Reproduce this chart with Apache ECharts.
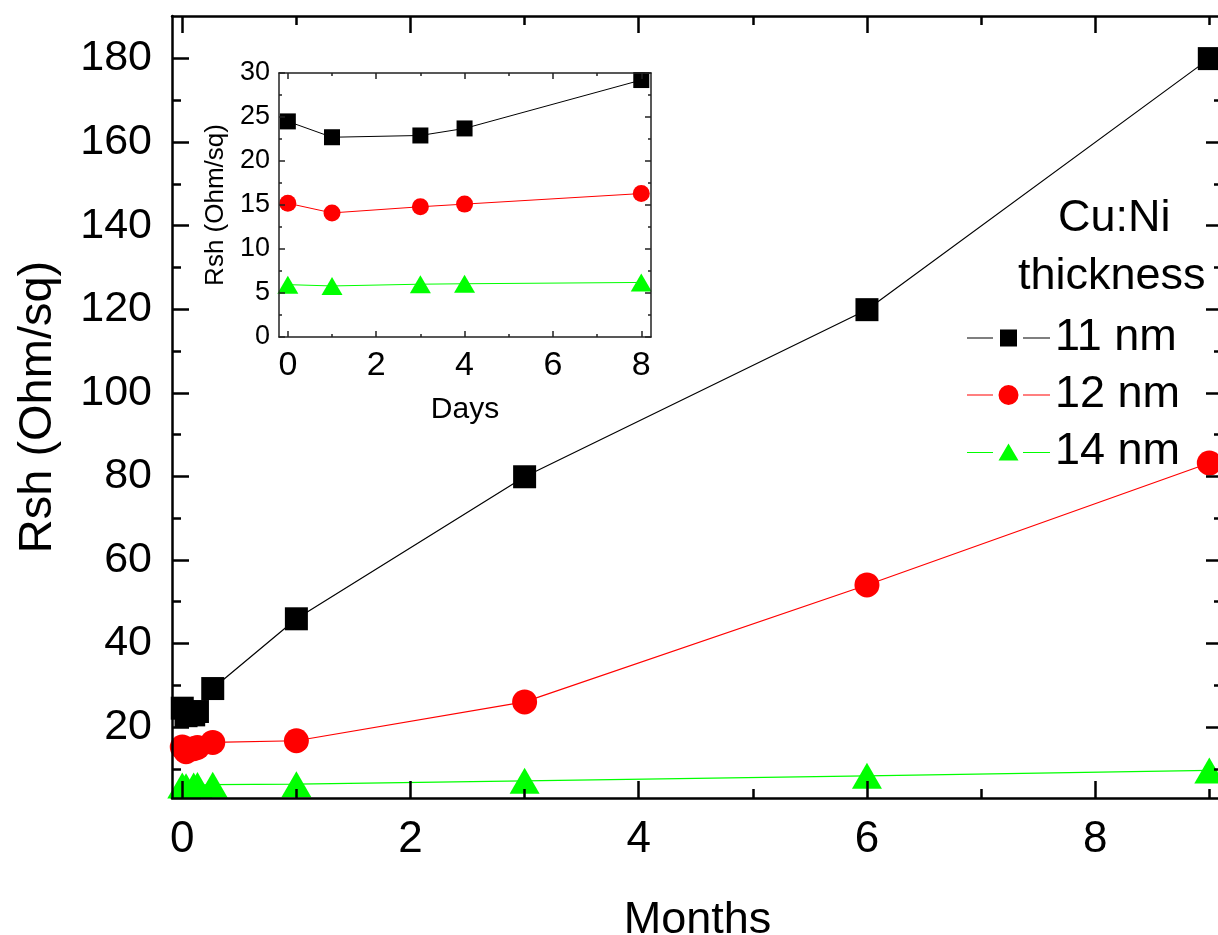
<!DOCTYPE html>
<html><head><meta charset="utf-8">
<script src="https://cdn.jsdelivr.net/npm/echarts@6/dist/echarts.min.js"></script>
<style>html,body{margin:0;padding:0;background:#fff}#c{width:1218px;height:935px}</style>
</head><body><div id="c"></div>
<script>
// ---- data ----
const seriesNames = ['11 nm', '12 nm', '14 nm'];
const monthsX = [0, 0.033, 0.1, 0.133, 0.267, 1, 3, 6, 9];
const rsh11 = [24.5, 22.7, 22.9, 23.7, 29.2, 45.9, 79.9, 119.9, 180];
const rsh12 = [15.2, 14.1, 14.8, 15.1, 16.3, 16.7, 26.0, 54.0, 83.2];
const rsh14 = [6.0, 5.8, 6.0, 6.1, 6.2, 6.3, 7.1, 8.3, 9.6];
const daysX = [0, 1, 3, 4, 8];
const inset11 = [24.5, 22.7, 22.9, 23.7, 29.2];
const inset12 = [15.2, 14.1, 14.8, 15.1, 16.3];
const inset14 = [5.95, 5.8, 6.0, 6.05, 6.2];
const mainXMajor = [0, 2, 4, 6, 8];
const mainXMinor = [1, 3, 5, 7, 9];
const mainYMajor = [20, 40, 60, 80, 100, 120, 140, 160, 180];
const mainYMinor = [10, 30, 50, 70, 90, 110, 130, 150, 170];
const insetXMajor = [0, 2, 4, 6, 8];
const insetXMinor = [1, 3, 5, 7];
const insetYMajor = [0, 5, 10, 15, 20, 25, 30];
const insetYMinor = [2.5, 7.5, 12.5, 17.5, 22.5, 27.5];
const legendTitle = ['Cu:Ni', 'thickness'];
const xName = 'Months', yName = 'Rsh (Ohm/sq)';
const insetXName = 'Days', insetYName = 'Rsh (Ohm/sq)';

const FONT = 'Liberation Sans, Arial, Helvetica, sans-serif';
const colors = ['#000000', '#ff0000', '#00ff00'];

function axis(o) {
  const a = {
    type: 'value', gridIndex: o.grid, position: o.pos, min: o.min, max: o.max,
    axisLine: { show: !!o.line, onZero: false, lineStyle: { color: o.color, width: o.w } },
    axisTick: { show: true, inside: true, length: o.len, customValues: o.ticks,
      lineStyle: { color: o.color, width: o.w } },
    axisLabel: { show: !!o.labels, customValues: o.labels || [], color: '#000',
      fontFamily: FONT, fontSize: o.fs || 12, margin: o.margin || 8 },
    splitLine: { show: false }, minorTick: { show: false }, minorSplitLine: { show: false },
    silent: true, z: 5
  };
  if (o.name) {
    a.name = o.name; a.nameLocation = 'middle'; a.nameGap = o.nameGap;
    a.nameTextStyle = { fontFamily: FONT, fontSize: o.nameFs, color: '#000' };
  }
  return a;
}

const M = { grid: 0, color: '#000', w: 2.5 };
const I = { grid: 1, color: '#222', w: 1.5 };
const mx = { min: -0.09, max: 9.12 }, my = { min: 3, max: 190.2 };
const ix = { min: -0.2, max: 8.22 }, iy = { min: 0, max: 30 };

const xAxes = [
  axis({ ...M, ...mx, pos: 'bottom', line: true, ticks: mainXMajor, len: 17, labels: mainXMajor, fs: 44, margin: 20, name: xName, nameGap: 100, nameFs: 45 }),
  axis({ ...M, ...mx, pos: 'bottom', ticks: mainXMinor, len: 9 }),
  axis({ ...M, ...mx, pos: 'top', line: true, ticks: mainXMajor, len: 17 }),
  axis({ ...M, ...mx, pos: 'top', ticks: mainXMinor, len: 9 }),
  axis({ ...I, ...ix, pos: 'bottom', line: true, ticks: insetXMajor, len: 6, labels: insetXMajor, fs: 34, margin: 12, name: insetXName, nameGap: 58, nameFs: 30 }),
  axis({ ...I, ...ix, pos: 'bottom', ticks: insetXMinor, len: 3 }),
  axis({ ...I, ...ix, pos: 'top', line: true, ticks: insetXMajor, len: 6 }),
  axis({ ...I, ...ix, pos: 'top', ticks: insetXMinor, len: 3 })
];
const yAxes = [
  axis({ ...M, ...my, pos: 'left', line: true, ticks: mainYMajor, len: 17, labels: mainYMajor, fs: 43, margin: 20, name: yName, nameGap: 110, nameFs: 47 }),
  axis({ ...M, ...my, pos: 'left', ticks: mainYMinor, len: 9 }),
  axis({ ...M, ...my, pos: 'right', line: true, ticks: mainYMajor, len: 17 }),
  axis({ ...M, ...my, pos: 'right', ticks: mainYMinor, len: 9 }),
  axis({ ...I, ...iy, pos: 'left', line: true, ticks: insetYMajor, len: 6, labels: insetYMajor, fs: 27, margin: 9, name: insetYName, nameGap: 50, nameFs: 26 }),
  axis({ ...I, ...iy, pos: 'left', ticks: insetYMinor, len: 3 }),
  axis({ ...I, ...iy, pos: 'right', line: true, ticks: insetYMajor, len: 6 }),
  axis({ ...I, ...iy, pos: 'right', ticks: insetYMinor, len: 3 })
];

const mainVals = [rsh11, rsh12, rsh14];
const insetVals = [inset11, inset12, inset14];
const symbols = ['rect', 'circle', 'triangle'];
const mainSizes = [23, 25, [30, 26]];
const insetSizes = [16, 17, [21, 18]];
// legend icons: line – gap – marker – gap – line (83 x 22 box)
const legendIcons = [
  'path://M0,10.4H26V11.6H0Z M33,2.5H50V19.5H33Z M56,10.4H83V11.6H56Z',
  'path://M0,10.4H26V11.6H0Z M31.5,11a10,10 0 1,0 20,0a10,10 0 1,0 -20,0Z M56,10.4H83V11.6H56Z',
  'path://M0,10.4H26V11.6H0Z M41.5,2L51.5,19H31.5Z M56,10.4H83V11.6H56Z'
];

const series = [];
seriesNames.forEach((n, k) => {
  series.push({
    type: 'line', name: n, xAxisIndex: 0, yAxisIndex: 0,
    data: monthsX.map((x, i) => [x, mainVals[k][i]]),
    symbol: symbols[k], symbolSize: mainSizes[k], showAllSymbol: true, clip: false,
    itemStyle: { color: colors[k] }, lineStyle: { color: colors[k], width: 1.2 },
    z: 3
  });
});
seriesNames.forEach((n, k) => {
  series.push({
    type: 'line', name: n, xAxisIndex: 4, yAxisIndex: 4,
    data: daysX.map((x, i) => [x, insetVals[k][i]]),
    symbol: symbols[k], symbolSize: insetSizes[k], showAllSymbol: true, clip: false,
    itemStyle: { color: colors[k] }, lineStyle: { color: colors[k], width: 1 },
    z: 3
  });
});

const chart = echarts.init(document.getElementById('c'), null, { renderer: 'canvas' });
chart.setOption({
  animation: false,
  backgroundColor: '#fff',
  grid: [
    { left: 172, top: 16, width: 1051, height: 782, containLabel: false, outerBoundsMode: 'none' },
    { left: 279, top: 73, width: 372, height: 264, containLabel: false, outerBoundsMode: 'none' }
  ],
  xAxis: xAxes,
  yAxis: yAxes,
  legend: {
    data: seriesNames.map((n, k) => ({ name: n, icon: legendIcons[k], itemStyle: { color: colors[k], borderWidth: 0 } })),
    orient: 'vertical', left: 962, top: 310,
    itemWidth: 83, itemHeight: 22, itemGap: 11, selectedMode: false, symbolKeepAspect: true,
    textStyle: { fontFamily: FONT, fontSize: 45, lineHeight: 46, color: '#000' }
  },
  graphic: [
    { type: 'text', left: 1058, top: 196, style: { text: legendTitle[0], font: '45px ' + FONT, fill: '#000' } },
    { type: 'text', left: 1018, top: 254, style: { text: legendTitle[1], font: '45px ' + FONT, fill: '#000' } }
  ],
  series: series
});
</script>
</body></html>
